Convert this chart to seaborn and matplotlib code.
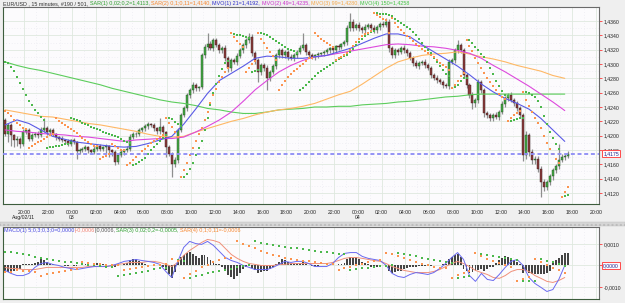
import numpy as np
import pandas as pd
import matplotlib
matplotlib.use("Agg")
import matplotlib.pyplot as plt
import seaborn as sns
from matplotlib.ticker import FuncFormatter
from matplotlib.patches import Rectangle

# ---------------- data (price in pips above 1.4000) ----------------
first_open = 222
close_pips = [
    203, 215, 201, 194, 196, 189, 205, 208, 196, 201,
    203, 201, 208, 210, 205, 208, 202, 198, 196, 194,
    192, 189, 194, 191, 178, 180, 182, 184, 180, 177,
    182, 185, 182, 184, 185, 180, 177, 163, 173, 177,
    180, 182, 198, 202, 203, 208, 210, 213, 216, 215,
    210, 206, 212, 205, 184, 175, 161, 166, 208, 229,
    238, 257, 264, 271, 266, 268, 312, 324, 328, 322,
    333, 327, 319, 322, 308, 294, 305, 303, 311, 319,
    327, 333, 338, 315, 305, 289, 298, 294, 280, 289,
    297, 312, 319, 312, 317, 310, 308, 312, 317, 322,
    327, 317, 312, 310, 312, 314, 315, 317, 319, 322,
    319, 325, 324, 328, 331, 350, 359, 350, 354, 350,
    347, 352, 354, 350, 347, 352, 356, 354, 359, 322,
    312, 319, 317, 322, 319, 315, 308, 301, 297, 301,
    303, 298, 294, 285, 280, 277, 275, 271, 269, 303,
    305, 319, 327, 319, 285, 271, 257, 245, 250, 275,
    264, 231, 229, 224, 229, 226, 233, 244, 252, 257,
    250, 245, 238, 229, 173, 201, 177, 166, 168, 154,
    135, 129, 135, 143, 152, 157, 166, 170, 172, 175,
]
upper_wick = [
    3, 2, 3, 2, 3, 2, 4, 3, 2, 3,
    2, 3, 4, 14, 3, 2, 3, 2, 2, 3,
    2, 3, 2, 3, 2, 3, 2, 3, 2, 2,
    3, 2, 3, 2, 3, 2, 2, 3, 2, 3,
    2, 3, 4, 3, 2, 3, 2, 3, 3, 2,
    3, 2, 12, 3, 2, 3, 2, 4, 3, 3,
    4, 3, 3, 4, 3, 2, 3, 4, 15, 4,
    3, 4, 3, 3, 4, 3, 4, 3, 4, 3,
    3, 3, 5, 4, 3, 4, 3, 3, 4, 3,
    3, 4, 3, 4, 3, 3, 4, 3, 3, 4,
    16, 3, 3, 3, 2, 3, 2, 3, 3, 2,
    3, 2, 3, 2, 3, 5, 12, 4, 3, 4,
    3, 4, 3, 3, 4, 3, 3, 4, 5, 4,
    3, 4, 3, 3, 4, 3, 3, 3, 4, 3,
    3, 4, 3, 3, 3, 4, 3, 3, 3, 4,
    3, 4, 6, 3, 4, 3, 3, 4, 3, 4,
    3, 3, 4, 3, 3, 4, 3, 4, 3, 3,
    4, 3, 3, 4, 3, 5, 3, 4, 3, 4,
    3, 4, 3, 4, 3, 4, 23, 4, 3, 4,
]
lower_wick = [
    4, 12, 15, 10, 8, 6, 3, 3, 4, 3,
    3, 4, 3, 3, 4, 3, 3, 4, 3, 3,
    3, 4, 3, 3, 10, 4, 3, 3, 4, 3,
    3, 4, 3, 3, 8, 10, 6, 4, 3, 3,
    4, 3, 3, 3, 4, 3, 3, 3, 4, 3,
    3, 4, 3, 4, 14, 4, 19, 5, 4, 3,
    3, 4, 4, 5, 3, 4, 3, 4, 4, 3,
    4, 3, 4, 3, 4, 5, 4, 3, 4, 3,
    3, 4, 3, 4, 5, 14, 5, 4, 16, 4,
    3, 4, 3, 4, 3, 4, 3, 4, 3, 3,
    3, 4, 3, 3, 4, 3, 3, 4, 3, 3,
    3, 3, 4, 3, 3, 4, 4, 4, 3, 4,
    3, 4, 3, 4, 3, 3, 4, 3, 3, 5,
    4, 3, 4, 3, 3, 4, 3, 4, 3, 4,
    3, 4, 3, 4, 3, 4, 3, 4, 3, 4,
    3, 4, 3, 4, 4, 5, 4, 8, 5, 4,
    4, 5, 4, 3, 4, 3, 4, 3, 4, 3,
    3, 4, 3, 4, 8, 5, 6, 5, 6, 5,
    21, 6, 5, 4, 5, 4, 4, 3, 4, 3,
]

# moving averages, one value per hour (every 4th bar), pips above 1.4000
mvo21 = [215, 222, 217, 208, 199, 195, 191, 189, 187, 185, 184, 185, 189, 194, 199, 216,
         237, 259, 277, 287, 297, 308, 311, 310, 308, 308, 310, 312, 317, 322, 329, 336,
         342, 342, 338, 327, 317, 307, 297, 285, 272, 261, 252, 245, 237, 224, 208, 192]
mvo49 = [208, 206, 205, 203, 202, 201, 199, 198, 196, 194, 192, 194, 195, 196, 196, 198,
         205, 213, 222, 233, 248, 264, 277, 289, 298, 305, 310, 312, 315, 318, 321, 324,
         327, 328, 327, 325, 324, 322, 319, 315, 308, 298, 289, 279, 269, 258, 247, 235]
mvo99 = [236, 233, 230, 227, 226, 223, 220, 217, 215, 212, 209, 206, 202, 199, 198, 199,
         205, 210, 215, 220, 224, 229, 233, 236, 238, 241, 245, 251, 257, 262, 272, 283,
         294, 303, 308, 312, 314, 315, 317, 314, 310, 307, 303, 298, 294, 290, 284, 280]
mvo150 = [303, 298, 294, 291, 287, 283, 279, 275, 271, 266, 262, 258, 254, 250, 247, 245,
          242, 238, 236, 233, 231, 231, 233, 236, 237, 238, 240, 240, 241, 241, 243, 244,
          245, 247, 248, 250, 252, 254, 255, 257, 258, 258, 258, 258, 258, 258, 258, 258]

# MACD panel, in units of 0.0001
macd_hist = [
    -2.5, -3, -3, -2.8, -2.5, -1.5, 0.5, 0.8, 0.6, 0.8,
    1.0, 1.8, 2.8, 2.5, 1.5, 0.8, 0.6, 0.4, 0.3, 0.2,
    -0.2, -0.3, 0.2, -0.2, -0.4, 0.3, 0.5, 0.8, 0.6, 0.4,
    0.8, 1.0, 0.7, 0.5, 0.4, 0.3, -0.2, -0.5, -0.3, 0.2,
    0.5, 1.0, 2.5, 3.2, 2.8, 2.0, 1.0, 0.5, 0.4, 0.3,
    0.3, 0.2, 0.3, -0.5, -2.0, -4.0, -5.6, -3.0, 2.0, 4.0,
    5.0, 6.0, 6.2, 5.5, 4.5, 3.5, 5.0, 4.8, 4.0, 2.5,
    1.5, 0.8, 0.5, -0.5, -2.0, -4.5, -5.5, -6.5, -5.0, -3.5,
    -1.5, -0.5, 0.5, -1.0, -2.0, -3.3, -3.0, -2.5, -2.8, -1.5,
    -0.5, 0.5, 1.5, 2.8, 2.5, 1.8, 1.2, 0.8, 1.0, 1.2,
    1.5, 0.8, 0.3, -0.2, -0.3, -0.2, 0.2, 0.2, 0.3, 0.3,
    0.2, 0.4, 0.5, 0.8, 1.0, 3.0, 4.0, 3.5, 4.0, 3.0,
    1.5, 1.0, 0.8, -0.5, -1.0, -0.8, -0.5, 0.2, 0.3, -2.5,
    -3.3, -3.0, -2.8, -2.5, -1.5, -1.0, -0.8, -0.5, -0.5, -0.2,
    -0.3, -0.2, 0.2, -0.2, 0.3, 0.2, 0.3, 0.5, 0.5, 3.0,
    4.0, 5.0, 5.2, 4.0, -1.5, -2.5, -3.3, -3.2, -2.8, -2.0,
    -1.8, -2.5, -1.5, -0.8, -0.5, 1.0, 2.5, 3.5, 4.2, 4.0,
    3.5, 2.5, 1.5, 0.5, -3.5, -2.5, -3.5, -4.2, -4.0, -4.2,
    -4.2, -4.0, -3.5, -2.5, 1.0, 2.5, 3.5, 5.0, 5.8, 6.0,
]
# one value every 2 bars
macd_line = [
    -2.3, -3.7, -4.7, -4.7, -3.7, -0.9, 0.9, 1.4, 0.5, 0.0,
    -0.9, -1.4, -1.9, -1.4, -0.9, -0.5, -0.5, -0.5, 0.0, 0.9,
    1.9, 2.3, 2.8, 2.3, 1.9, 1.4, 0.5, -2.8, -5.6, 1.9,
    8.4, 11.2, 10.2, 9.8, 11.2, 9.3, 6.5, 3.7, 2.3, 1.4,
    0.0, -0.9, -1.9, -1.9, -1.9, -0.9, 0.5, 1.9, 1.4, 1.9,
    1.9, 0.9, -0.5, -0.5, -0.5, 0.9, 3.7, 5.6, 6.0, 6.0,
    4.2, 3.3, 2.8, 2.3, 0.0, -3.7, -5.1, -5.6, -4.2, -3.3,
    -3.7, -4.2, -3.3, -1.4, 0.9, 3.7, 6.0, 2.8, -4.7, -7.4,
    -3.7, -6.5, -7.0, -4.2, -0.9, 1.9, 2.8, 0.0, -5.6, -8.4,
    -10.2, -12.1, -11.2, -6.5, 0.0,
]
macd_signal = [
    -0.9, -1.4, -1.4, -1.9, -1.9, -1.9, -1.4, -0.9, -0.9, -0.9,
    -0.9, -0.9, -0.9, -0.9, -0.5, -0.5, -0.5, -0.5, 0.0, 0.5,
    0.9, 1.4, 1.4, 1.4, 1.9, 1.9, 1.4, 0.5, -0.5, 1.4,
    4.7, 7.0, 8.8, 10.7, 12.1, 11.6, 10.7, 7.9, 5.1, 3.3,
    1.9, 0.9, 0.5, 0.0, 0.0, 0.0, 0.5, 0.5, 0.9, 0.9,
    0.9, 0.9, 0.9, 0.9, 0.9, 1.4, 2.3, 3.3, 3.7, 3.7,
    3.3, 2.8, 2.3, 1.9, 0.9, -0.5, -1.4, -2.3, -2.8, -3.3,
    -3.3, -3.3, -2.8, -1.9, -0.5, 0.9, 1.9, 0.9, -0.5, -2.3,
    -3.3, -4.2, -5.6, -6.0, -4.7, -2.8, -1.9, -1.9, -2.8, -4.7,
    -6.0, -7.4, -7.9, -7.0, -5.6,
]

last_price = 1.4175
sar_settings = [(0.02, 0.2, 1.4303, -1, "#4cb84c"), (0.1, 0.11, 1.4235, -1, "#fb9450")]
macd_sar_settings = [(0.02, 0.2, 0.00065, -1, "#4cb84c"), (0.1, 0.11, -0.0003, 1, "#fb9450")]


def psar(hi, lo, step, amax, sar, trend):
    out = np.empty(len(hi))
    ep = lo[0] if trend < 0 else hi[0]
    af = step
    for k in range(len(hi)):
        out[k] = sar
        if trend < 0:
            if hi[k] > sar:
                trend, sar, ep, af = 1, ep, hi[k], step
            else:
                if lo[k] < ep:
                    ep, af = lo[k], min(af + step, amax)
                sar = max(sar + af * (ep - sar), hi[k])
        else:
            if lo[k] < sar:
                trend, sar, ep, af = -1, ep, lo[k], step
            else:
                if hi[k] > ep:
                    ep, af = hi[k], min(af + step, amax)
                sar = min(sar + af * (ep - sar), lo[k])
    return out


n = len(close_pips)
t = 18.375 + 0.25 * np.arange(n)          # hours from Aug 02 00:00
close = 1.4 + np.array(close_pips) / 1e4
open_ = np.r_[1.4 + first_open / 1e4, close[:-1]]
high = np.maximum(open_, close) + np.array(upper_wick) / 1e4
low = np.minimum(open_, close) - np.array(lower_wick) / 1e4

t_ma = t[::4]
ma_df = pd.DataFrame({"t": t_ma,
                      "mvo21": 1.4 + np.array(mvo21) / 1e4,
                      "mvo49": 1.4 + np.array(mvo49) / 1e4,
                      "mvo99": 1.4 + np.array(mvo99) / 1e4,
                      "mvo150": 1.4 + np.array(mvo150) / 1e4})
t2 = t[::2]
macd_v = np.array(macd_line) / 1e4
sig_v = np.array(macd_signal) / 1e4

# ---------------- style ----------------
sns.set_style("white")
plt.rcParams['font.family'] = ['Liberation Sans', 'DejaVu Sans']
FS = 3.7        # axis labels
FS_T = 3.9      # legend strings

fig = plt.figure(figsize=(6.25, 3.03), dpi=100, facecolor="#efefef")
W, H = 625, 303
ax = fig.add_axes([3 / W, 1 - 204 / H, 596 / W, 197 / H], facecolor="#fcfbfd")
ax2 = fig.add_axes([3 / W, 1 - 299 / H, 596 / W, 72 / H], facecolor="#fcfbfd", sharex=ax)

x0, x1 = 18.2, 68.25
ax.set_xlim(x0, x1)
ax.set_ylim(1.41046, 1.43796)
ax2.set_ylim(-0.00156, 0.00179)

xt = np.arange(20, 69, 2)
for a in (ax, ax2):
    for v in xt:
        a.axvline(v, color="#dfe8df", lw=0.6, zorder=0)
    for v in xt[:-1] + 1:
        a.axvline(v, color="#e6e6ee", lw=0.5, ls=(0, (1, 3)), zorder=0)
    for s in ("left", "bottom"):
        a.spines[s].set_color("#3d5d3d")
        a.spines[s].set_linewidth(0.8)
    for s in ("top", "right"):
        a.spines[s].set_color("#6a6a6a")
        a.spines[s].set_linewidth(0.8)
        a.spines[s].set_visible(True)

yt = np.arange(1.4120, 1.43601, 0.002)
for v in yt:
    ax.axhline(v, color="#dfe8df", lw=0.6, zorder=0)
for v in yt[:-1] + 0.001:
    ax.axhline(v, color="#e6e6ee", lw=0.5, ls=(0, (1, 3)), zorder=0)
for v in (-0.001, 0.0, 0.001):
    ax2.axhline(v, color="#dfe8df", lw=0.6, zorder=0)

# candles
ax.vlines(t, low, high, color="#8e8e8e", lw=0.9, zorder=2)
up = close >= open_
ax.bar(t[up], (close - open_)[up], bottom=open_[up], width=0.17,
       color="#44a844", edgecolor="#234d23", lw=0.3, zorder=3)
ax.bar(t[~up], (open_ - close)[~up], bottom=close[~up], width=0.17,
       color="#8a3b3b", edgecolor="#3a1c1c", lw=0.3, zorder=3)

# moving averages
for col, c in [("mvo150", "#5ccd5c"), ("mvo99", "#ffb865"), ("mvo49", "#dd49dd"), ("mvo21", "#5a5ae6")]:
    sns.lineplot(data=ma_df, x="t", y=col, color=c, lw=0.8, ax=ax, zorder=4)

# parabolic SARs on price
for step, amax, s0, tr, c in sar_settings:
    sar = psar(high, low, step, amax, s0, tr)
    sns.scatterplot(x=t, y=sar, color=c, s=0.9, marker="s", linewidth=0, ax=ax, zorder=5)

ax.axhline(last_price, color="#8c8cf5", lw=1.3, ls=(0, (2.2, 1.5)), zorder=6)

# MACD panel
ax2.bar(t, np.array(macd_hist) / 1e4, width=0.16, color="#444444", lw=0, zorder=2)
sns.lineplot(x=t2, y=sig_v, color="#f0907a", lw=0.7, ax=ax2, zorder=4)
sns.lineplot(x=t2, y=macd_v, color="#6a6af0", lw=0.7, ax=ax2, zorder=5)
for step, amax, s0, tr, c in macd_sar_settings:
    sar = psar(macd_v, macd_v, step, amax, s0, tr)
    sns.scatterplot(x=t2, y=sar, color=c, s=0.9, marker="s", linewidth=0, ax=ax2, zorder=6)

# axes ticks
ax.set_ylabel("")
ax.set_xlabel("")
ax2.set_ylabel("")
ax.yaxis.tick_right()
ax.set_yticks(yt)
ax.yaxis.set_major_formatter(FuncFormatter(lambda v, p: f"{v:.4f}".replace(".", ",")))
ax2.yaxis.tick_right()
ax2.set_yticks([-0.001, 0.0, 0.001])
ax2.yaxis.set_major_formatter(FuncFormatter(lambda v, p: f"{v:.4f}".replace(".", ",").replace("-0,0000", "0,0000")))
ax.set_xticks(xt)
ax.set_xticklabels([f"{h % 24:02d}:00" for h in xt])
ax.tick_params(axis="x", colors="#ff3b3b", labelcolor="#222222", length=2, width=0.6,
               labelsize=FS, pad=2)
ax2.tick_params(axis="x", length=0, labelbottom=False)
for a in (ax, ax2):
    a.tick_params(axis="y", colors="#ff3b3b", labelcolor="#222222", length=2.5, width=0.6,
                  labelsize=FS, pad=1)
    a.grid(False)

xf = ax.get_xaxis_transform()
for hx, lab in [(19.9, "Aug/02/11"), (24, "03"), (48, "04")]:
    ax.text(hx, -0.068, lab, transform=xf, ha="center", va="center", fontsize=FS, color="#222222")

box = dict(boxstyle="square,pad=0.2", fc="#fcfbfd", ec="#ff4a4a", lw=0.7)
ax.text(1.007, last_price, "1,4175", transform=ax.get_yaxis_transform(), ha="left", va="center",
        fontsize=FS, color="#22228a", bbox=box, zorder=10, clip_on=False)
ax2.text(1.007, 0.0, "0,0000", transform=ax2.get_yaxis_transform(), ha="left", va="center",
         fontsize=FS, color="#22228a", bbox=box, zorder=10, clip_on=False)

# splitter bar between panels
fig.patches.append(Rectangle((0, 1 - 226 / H), 1, 4 / H, transform=fig.transFigure,
                             fc="#d6d6d6", ec="#bcbcbc", lw=0.3, hatch="....", zorder=0))

# coloured legend strings
renderer = fig.canvas.get_renderer()


def colored_text(x, y, parts):
    for txt, c in parts:
        tx = fig.text(x / W, 1 - y / H, txt, color=c, fontsize=FS_T, ha="left", va="center")
        x += tx.get_window_extent(renderer).width


colored_text(3, 3.5, [
    ("EUR/USD , 15 minutes, #190 / 501, ", "#333333"),
    ("SAR(1) 0,02;0,2=1,4113, ", "#2f9f2f"),
    ("SAR(2) 0,1;0,11=1,4140, ", "#f7862e"),
    ("MVO(1) 21=1,4192, ", "#3030c8"),
    ("MVO(2) 49=1,4235, ", "#cc33cc"),
    ("MVO(3) 99=1,4280, ", "#f5a94a"),
    ("MVO(4) 150=1,4258", "#44c444"),
])
colored_text(4, 230.5, [
    ("MACD(1) 5;0,3;0,3;0=0,0000", "#4848e0"),
    ("|-0,0006", "#f08070"),
    ("|0,0006, ", "#555555"),
    ("SAR(3) 0,02;0,2=-0,0005, ", "#2f9f2f"),
    ("SAR(4) 0,1;0,11=-0,0006", "#f7862e"),
])

fig.savefig("out.png", dpi=100, facecolor=fig.get_facecolor())
